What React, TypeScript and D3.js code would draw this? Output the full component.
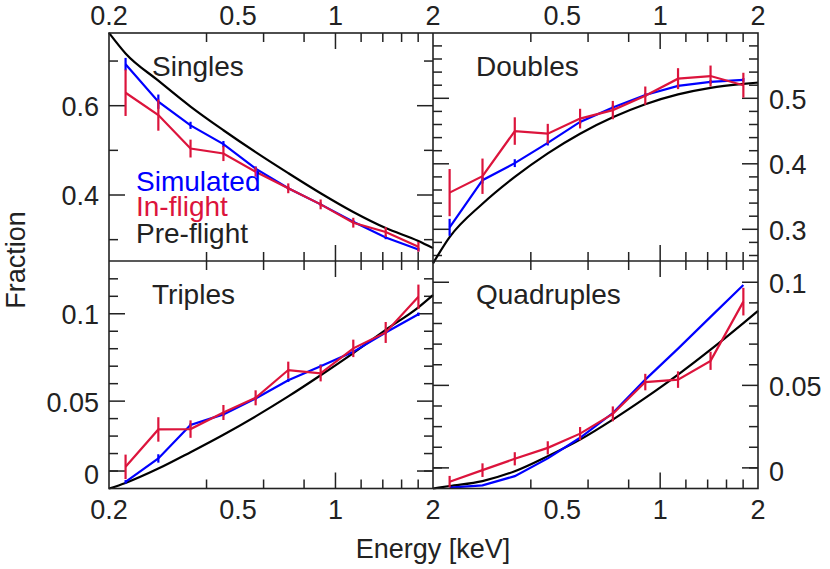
import * as d3 from "d3";

// ---------------------------------------------------------------------------
// Data
// ---------------------------------------------------------------------------

// energies of the measured / simulated bins [keV]
const ENERGY = [0.225, 0.284, 0.357, 0.451, 0.567, 0.715, 0.9, 1.135, 1.429, 1.803];
// sample energies for the pre-flight model curves
const PRE_ENERGY = [0.2, 0.225, 0.284, 0.357, 0.451, 0.567, 0.715, 0.9, 1.135, 1.429, 1.803, 2.0];

const SINGLES_SIM = [0.693, 0.609, 0.556, 0.514, 0.459, 0.415, 0.379, 0.34, 0.305, 0.278];
const SINGLES_SIM_ERR = [0.014, 0.016, 0.008, 0.007, 0.005, 0.004, 0.004, 0.004, 0.004, 0.004];
const SINGLES_FLIGHT = [0.629, 0.579, 0.504, 0.493, 0.452, 0.415, 0.379, 0.338, 0.317, 0.284];
const SINGLES_FLIGHT_ERR = [0.052, 0.035, 0.02, 0.017, 0.011, 0.011, 0.011, 0.011, 0.011, 0.011];
const SINGLES_PRE = [0.763, 0.717, 0.656, 0.598, 0.545, 0.496, 0.449, 0.404, 0.362, 0.326, 0.297, 0.281];

const DOUBLES_SIM = [0.303, 0.375, 0.401, 0.432, 0.464, 0.486, 0.505, 0.519, 0.525, 0.528];
const DOUBLES_SIM_ERR = [0.013, 0.005, 0.006, 0.004, 0.003, 0.003, 0.003, 0.003, 0.003, 0.003];
const DOUBLES_FLIGHT = [0.356, 0.381, 0.45, 0.446, 0.469, 0.482, 0.504, 0.53, 0.534, 0.52];
const DOUBLES_FLIGHT_ERR = [0.036, 0.027, 0.021, 0.015, 0.015, 0.014, 0.014, 0.016, 0.016, 0.019];
const DOUBLES_PRE = [0.248, 0.288, 0.339, 0.38, 0.416, 0.446, 0.471, 0.491, 0.506, 0.516, 0.522, 0.524];

const TRIPLES_SIM = [0.0038, 0.0172, 0.0363, 0.0424, 0.0515, 0.062, 0.07, 0.0782, 0.0893, 0.0997];
const TRIPLES_SIM_ERR = [0.001, 0.0024, 0.001, 0.001, 0.001, 0.001, 0.001, 0.001, 0.001, 0.001];
const TRIPLES_FLIGHT = [0.0124, 0.0338, 0.034, 0.0435, 0.0519, 0.0678, 0.0659, 0.0802, 0.0893, 0.1097];
const TRIPLES_FLIGHT_ERR = [0.007, 0.007, 0.005, 0.0043, 0.0043, 0.0048, 0.0046, 0.005, 0.006, 0.007];
const TRIPLES_PRE = [0, 0.0032, 0.0114, 0.0208, 0.0308, 0.0413, 0.0527, 0.0648, 0.0775, 0.0908, 0.1037, 0.1107];

const QUAD_SIM = [0.0004, 0.0015, 0.006, 0.0146, 0.0246, 0.0366, 0.0528, 0.0678, 0.0832, 0.0987];
const QUAD_SIM_ERR = [0, 0, 0, 0, 0, 0, 0, 0, 0, 0];
const QUAD_FLIGHT = [0.0033, 0.0089, 0.0144, 0.0197, 0.0266, 0.0362, 0.0516, 0.0528, 0.0619, 0.0906];
const QUAD_FLIGHT_ERR = [0.0028, 0.0033, 0.0032, 0.0032, 0.0032, 0.0036, 0.004, 0.004, 0.0044, 0.0067];
const QUAD_PRE = [0, 0.0012, 0.0036, 0.0084, 0.0157, 0.0237, 0.0334, 0.0439, 0.0552, 0.0673, 0.0802, 0.0861];

// axis ticks
const X_LABELS = [0.2, 0.5, 1, 2];
const X_MINOR = [0.4, 0.6, 0.8, 1.2, 1.4, 1.6, 1.8];
const X_MAJOR = [1];

const SINGLES_MAJOR = [0.4, 0.6];
const SINGLES_MINOR = [0.3, 0.5, 0.7];
const DOUBLES_MAJOR = [0.3, 0.4, 0.5];
const DOUBLES_MINOR = [0.26, 0.28, 0.32, 0.34, 0.36, 0.38, 0.42, 0.44, 0.46, 0.48, 0.52, 0.54, 0.56, 0.58];
const TRIPLES_MAJOR = [0, 0.05, 0.1];
const TRIPLES_MINOR = [0.01, 0.02, 0.03, 0.04, 0.06, 0.07, 0.08, 0.09, 0.11, 0.12];
const QUAD_MAJOR = [0, 0.05, 0.1];
const QUAD_MINOR = [0.01, 0.02, 0.03, 0.04, 0.06, 0.07, 0.08, 0.09];

const LEGEND = ["Simulated", "In-flight", "Pre-flight"];

// ---------------------------------------------------------------------------
// Style / layout
// ---------------------------------------------------------------------------

const FONT = "'Liberation Sans', Arial, Helvetica, sans-serif";
const FRAME = "#222";
const BLUE = "#0000ff";
const RED = "#dc143c";
const INK = "#222";

const W = 830;
const H = 569;
const LEFT = 109;
const MID_X = 433;
const RIGHT = 758;
const TOP = 33;
const MID_Y = 261;
const BOTTOM = 488.5;
const MINOR_LEN = 9;
const MAJOR_LEN = 16;
const FS = 27;

interface PanelDef {
  name: string;
  col: number;
  row: number;
  domain: [number, number];
  major: number[];
  minor: number[];
  sim: number[];
  simErr: number[];
  flight: number[];
  flightErr: number[];
  pre: number[];
}

const PANELS: PanelDef[] = [
  { name: "Singles", col: 0, row: 0, domain: [0.2522, 0.7628], major: SINGLES_MAJOR, minor: SINGLES_MINOR,
    sim: SINGLES_SIM, simErr: SINGLES_SIM_ERR, flight: SINGLES_FLIGHT, flightErr: SINGLES_FLIGHT_ERR, pre: SINGLES_PRE },
  { name: "Doubles", col: 1, row: 0, domain: [0.2516, 0.5997], major: DOUBLES_MAJOR, minor: DOUBLES_MINOR,
    sim: DOUBLES_SIM, simErr: DOUBLES_SIM_ERR, flight: DOUBLES_FLIGHT, flightErr: DOUBLES_FLIGHT_ERR, pre: DOUBLES_PRE },
  { name: "Triples", col: 0, row: 1, domain: [0, 0.1302], major: TRIPLES_MAJOR, minor: TRIPLES_MINOR,
    sim: TRIPLES_SIM, simErr: TRIPLES_SIM_ERR, flight: TRIPLES_FLIGHT, flightErr: TRIPLES_FLIGHT_ERR, pre: TRIPLES_PRE },
  { name: "Quadruples", col: 1, row: 1, domain: [0, 0.1103], major: QUAD_MAJOR, minor: QUAD_MINOR,
    sim: QUAD_SIM, simErr: QUAD_SIM_ERR, flight: QUAD_FLIGHT, flightErr: QUAD_FLIGHT_ERR, pre: QUAD_PRE },
];

// ---------------------------------------------------------------------------
// Panel
// ---------------------------------------------------------------------------

function Panel({ p }: { p: PanelDef }) {
  const x0 = p.col === 0 ? LEFT : MID_X;
  const x1 = p.col === 0 ? MID_X : RIGHT;
  const y0 = p.row === 0 ? TOP : MID_Y;
  const y1 = p.row === 0 ? MID_Y : BOTTOM;

  const x = d3.scaleLog().domain([0.2, 2]).range([x0, x1]);
  const y = d3.scaleLinear().domain(p.domain).range([y1, y0]);

  const line = d3.line<number>().x((_, i) => x(ENERGY[i])).y((d) => y(d));
  const preLine = d3
    .line<number>()
    .x((_, i) => x(PRE_ENERGY[i]))
    .y((d) => y(d))
    .curve(d3.curveMonotoneX);

  // a label sitting on the frame is lifted to the first minor tick
  const lowest = Math.min(...p.minor);
  const majorY = (v: number) => (v === p.domain[0] ? y(lowest) : y(v));

  const xTicks = [
    ...X_MINOR.map((v) => ({ v, len: MINOR_LEN })),
    ...X_MAJOR.map((v) => ({ v, len: MAJOR_LEN })),
  ];
  const yTicks = [
    ...p.minor.map((v) => ({ ty: y(v), len: MINOR_LEN })),
    ...p.major.map((v) => ({ ty: majorY(v), len: MAJOR_LEN })),
  ];

  const errBars = (vals: number[], errs: number[], color: string, key: string) =>
    vals.map((v, i) =>
      errs[i] > 0 ? (
        <line
          key={`${key}${i}`}
          x1={x(ENERGY[i])}
          x2={x(ENERGY[i])}
          y1={y(v - errs[i])}
          y2={y(v + errs[i])}
          stroke={color}
          strokeWidth={2.2}
        />
      ) : null,
    );

  return (
    <g>
      {/* ticks */}
      {xTicks.map(({ v, len }) => (
        <g key={`x${v}`} stroke={FRAME} strokeWidth={1.5}>
          <line x1={x(v)} x2={x(v)} y1={y0} y2={y0 + len} />
          <line x1={x(v)} x2={x(v)} y1={y1} y2={y1 - len} />
        </g>
      ))}
      {yTicks.map(({ ty, len }, i) => (
        <g key={`y${i}`} stroke={FRAME} strokeWidth={1.5}>
          <line x1={x0} x2={x0 + len} y1={ty} y2={ty} />
          <line x1={x1} x2={x1 - len} y1={ty} y2={ty} />
        </g>
      ))}

      {/* y labels */}
      {p.major.map((v) => (
        <text
          key={`yl${v}`}
          x={p.col === 0 ? x0 - 10 : x1 + 11}
          y={majorY(v) + (v === p.domain[0] ? 4 : 1)}
          dy="0.35em"
          textAnchor={p.col === 0 ? "end" : "start"}
          fontSize={FS}
          fontFamily={FONT}
          fill={INK}
        >
          {String(v)}
        </text>
      ))}

      {/* x labels */}
      {X_LABELS.filter((v) => !(p.col === 1 && v === 0.2)).map((v) => (
        <text
          key={`xl${v}`}
          x={x(v)}
          y={p.row === 0 ? y0 - 8 : y1 + 30.5}
          textAnchor="middle"
          fontSize={FS}
          fontFamily={FONT}
          fill={INK}
        >
          {String(v)}
        </text>
      ))}

      {/* curves */}
      <path d={preLine(p.pre) ?? ""} fill="none" stroke="#000" strokeWidth={2.2} />
      <path d={line(p.sim) ?? ""} fill="none" stroke={BLUE} strokeWidth={2.2} />
      {errBars(p.sim, p.simErr, BLUE, "se")}
      <path d={line(p.flight) ?? ""} fill="none" stroke={RED} strokeWidth={2.2} />
      {errBars(p.flight, p.flightErr, RED, "fe")}

      <text x={x0 + 43} y={y0 + 43} fontSize={28} fontFamily={FONT} fill={INK}>
        {p.name}
      </text>
    </g>
  );
}

// ---------------------------------------------------------------------------
// App
// ---------------------------------------------------------------------------

export default function App() {
  const legendColors = [BLUE, RED, INK];
  const legendY = [191, 216, 243];
  return (
    <svg
      width={W}
      height={H}
      style={{ position: "absolute", left: 0, top: 0, background: "#fff" }}
    >
      {PANELS.map((p) => (
        <Panel key={p.name} p={p} />
      ))}

      {/* frame */}
      <rect x={LEFT} y={TOP} width={RIGHT - LEFT} height={BOTTOM - TOP} fill="none" stroke={FRAME} strokeWidth={1.6} />
      <line x1={MID_X} x2={MID_X} y1={TOP} y2={BOTTOM} stroke={FRAME} strokeWidth={1.6} />
      <line x1={LEFT} x2={RIGHT} y1={MID_Y} y2={MID_Y} stroke={FRAME} strokeWidth={1.6} />

      {/* legend */}
      {LEGEND.map((label, i) => (
        <text key={label} x={136} y={legendY[i]} fontSize={28} fontFamily={FONT} fill={legendColors[i]}>
          {label}
        </text>
      ))}

      {/* axis titles */}
      <text
        transform="translate(25,260) rotate(-90)"
        textAnchor="middle"
        fontSize={FS}
        fontFamily={FONT}
        fill={INK}
      >
        Fraction
      </text>
      <text x={433} y={558} textAnchor="middle" fontSize={FS} fontFamily={FONT} fill={INK}>
        Energy [keV]
      </text>
    </svg>
  );
}
